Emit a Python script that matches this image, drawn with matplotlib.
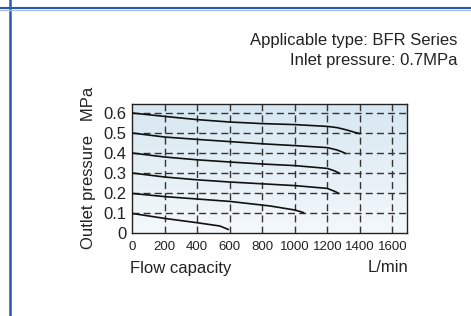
import matplotlib
matplotlib.use("Agg")
import matplotlib.pyplot as plt
import numpy as np
from matplotlib.colors import LinearSegmentedColormap

font = 'Liberation Sans'

# Data (flow L/min, outlet pressure MPa)
flow_06 = [0, 200, 400, 600, 800, 1000, 1200, 1260, 1320, 1370, 1400]
pres_06 = [0.600, 0.583, 0.567, 0.555, 0.547, 0.542, 0.533, 0.527, 0.515, 0.503, 0.497]
flow_05 = [0, 200, 400, 600, 800, 1000, 1200, 1260, 1290, 1311]
pres_05 = [0.500, 0.480, 0.468, 0.457, 0.446, 0.437, 0.427, 0.415, 0.406, 0.398]
flow_04 = [0, 200, 400, 600, 800, 1000, 1200, 1240, 1260, 1276]
pres_04 = [0.400, 0.380, 0.366, 0.355, 0.345, 0.337, 0.323, 0.312, 0.305, 0.298]
flow_03 = [0, 200, 400, 600, 800, 1000, 1200, 1240, 1257, 1270]
pres_03 = [0.300, 0.280, 0.266, 0.255, 0.246, 0.237, 0.223, 0.210, 0.204, 0.198]
flow_02 = [0, 200, 400, 600, 850, 1000, 1030, 1054]
pres_02 = [0.198, 0.182, 0.170, 0.158, 0.135, 0.115, 0.108, 0.102]
flow_01 = [0, 200, 395, 540, 591]
pres_01 = [0.098, 0.073, 0.052, 0.035, 0.018]

x_ticks = [0, 200, 400, 600, 800, 1000, 1200, 1400, 1600]
y_ticks = [0, 0.1, 0.2, 0.3, 0.4, 0.5, 0.6]
y_labels = ["0", "0.1", "0.2", "0.3", "0.4", "0.5", "0.6"]

W, H = 471, 316
fig = plt.figure(figsize=(W/100, H/100), dpi=100)
fig.patch.set_facecolor('white')

# decorative blue lines
fig.add_artist(plt.Line2D([10/W, 10/W], [0, 1], color='#2b58b4', lw=1.8, transform=fig.transFigure))
fig.add_artist(plt.Line2D([0, 1], [1-8/H, 1-8/H], color='#2b58b4', lw=1.5, transform=fig.transFigure))
fig.add_artist(plt.Line2D([0, 1], [1-9.5/H, 1-9.5/H], color='#a9bfe6', lw=1.0, transform=fig.transFigure))

fig.text(457/W, 1-40/H, "Applicable type: BFR Series", ha='right', va='center',
         fontsize=12, family=font, color='#222222')
fig.text(457/W, 1-61/H, "Inlet pressure: 0.7MPa", ha='right', va='center',
         fontsize=12, family=font, color='#222222')

l, r, b, t = 132/W, 407/W, 1-233/H, 1-104/H
ax = fig.add_axes([l, b, r-l, t-b])
xmax, ymax = 1690, 0.645
ax.set_xlim(0, xmax)
ax.set_ylim(0, ymax)

grad = np.linspace(0, 1, 256).reshape(-1, 1)
cmap = LinearSegmentedColormap.from_list('bg', ['#f4f8fb', '#d6e7f1'])
ax.imshow(grad, aspect='auto', cmap=cmap, origin='lower',
          extent=[0, xmax, 0, ymax], zorder=0)

for xv in x_ticks[1:]:
    ax.axvline(xv, color='#333333', lw=1.0, ls=(0, (5, 3)), zorder=1)
for yv in y_ticks[1:]:
    ax.axhline(yv, color='#333333', lw=1.0, ls=(0, (5, 3)), zorder=1)

for fx, py in [(flow_06, pres_06), (flow_05, pres_05), (flow_04, pres_04),
               (flow_03, pres_03), (flow_02, pres_02), (flow_01, pres_01)]:
    ax.plot(fx, py, color='#111111', lw=1.2, zorder=3, solid_joinstyle='round')

for s in ax.spines.values():
    s.set_color('#222222')
    s.set_linewidth(1.0)

ax.set_xticks(x_ticks)
ax.set_xticklabels([str(v) for v in x_ticks], family=font, fontsize=9.5, color='#222222')
ax.set_yticks(y_ticks)
ax.set_yticklabels(y_labels, family=font, fontsize=12, color='#222222')
ax.tick_params(axis='both', length=0, pad=4)
ax.tick_params(axis='x', pad=6)

fig.text(88/W, 1-168/H, "Outlet pressure   MPa", rotation=90, ha='center', va='center',
         fontsize=12, family=font, color='#222222')
fig.text(130/W, 1-268/H, "Flow capacity", ha='left', va='center',
         fontsize=12, family=font, color='#222222')
fig.text(408/W, 1-268/H, "L/min", ha='right', va='center',
         fontsize=12, family=font, color='#222222')

fig.savefig("out.png", dpi=100)
